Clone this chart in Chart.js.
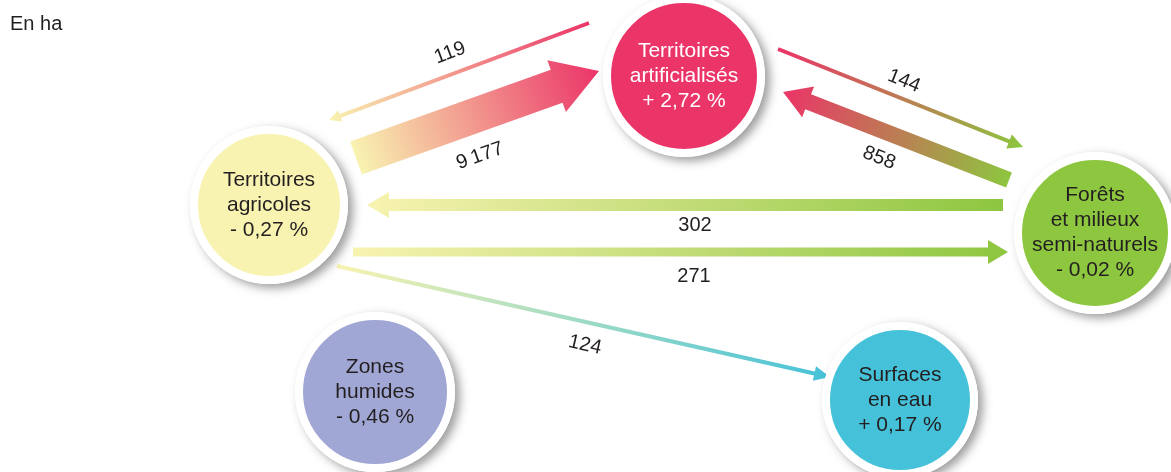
<!DOCTYPE html>
<html lang="fr">
<head>
<meta charset="utf-8">
<title>Flux entre occupations du sol</title>
<script src="https://cdn.jsdelivr.net/npm/chart.js@4.4.1/dist/chart.umd.min.js"></script>
<style>
  html, body { margin: 0; padding: 0; background: #fff; }
  #wrap { position: relative; width: 1171px; height: 472px; }
</style>
</head>
<body>
<div id="wrap"><canvas id="flux"></canvas></div>
<script>
// Données : postes d'occupation du sol, évolution en %, flux en hectares
const categories = [
  ["Territoires", "artificialisés"],
  ["Territoires", "agricoles"],
  ["Forêts", "et milieux", "semi-naturels"],
  ["Zones", "humides"],
  ["Surfaces", "en eau"]
];
const evolutions = [2.72, -0.27, -0.02, -0.46, 0.17];

const fluxDe = [0, 1, 0, 2, 2, 1, 1];
const fluxVers = [1, 0, 2, 0, 1, 2, 4];
const fluxValeurs = [119, 9177, 144, 858, 302, 271, 124];

const unite = "En ha";

// Mise en page (unités = pixels du graphique)
const noeudX = [684, 269, 1095, 375, 900];
const noeudY = [76, 205, 233, 392, 400];
const noeudR = [73, 71, 73, 72, 70];
const couleurs = ["#EB3468", "#F8F3B1", "#8DC63F", "#A1A7D4", "#45C2D9"];
const couleursTexte = ["#FFFFFF", "#231F20", "#231F20", "#231F20", "#231F20"];
const anneau = 8;

const fluxQueue = [[589, 23], [356, 158], [778, 49], [1009, 180], [1003, 205], [353, 252], [337, 266]];
const fluxPointe = [[329, 120], [599, 71], [1023, 147], [783, 92], [367, 205], [1008, 252], [830, 377]];
const fluxEpaisseur = [4, 35, 4, 16, 12, 9, 4];
const fluxTete = [[12, 12], [45, 55], [15, 15], [27, 33], [22, 26], [20, 24], [16, 15]];
const etiquetteXY = [[450, 53], [480, 156], [904, 81], [879, 158], [695, 225], [694, 276], [585, 345]];

const police = '"Liberation Sans", Arial, Helvetica, sans-serif';

function formatPct(v) {
  const s = Math.abs(v).toFixed(2).replace(".", ",");
  return (v < 0 ? "- " : "+ ") + s + " %";
}
function formatHa(v) {
  return String(v).replace(/\B(?=(\d{3})+(?!\d))/g, "\u202F");
}

function dessineFleche(ctx, x0, y0, x1, y1, w, hl, hw, c0, c1) {
  const dx = x1 - x0, dy = y1 - y0;
  const len = Math.hypot(dx, dy);
  const ux = dx / len, uy = dy / len;
  const nx = -uy, ny = ux;
  const bx = x1 - ux * hl, by = y1 - uy * hl;
  const grad = ctx.createLinearGradient(x0, y0, x1, y1);
  grad.addColorStop(0, c0);
  grad.addColorStop(1, c1);
  ctx.beginPath();
  ctx.moveTo(x0 + nx * w / 2, y0 + ny * w / 2);
  ctx.lineTo(bx + nx * w / 2, by + ny * w / 2);
  ctx.lineTo(bx + nx * hw / 2, by + ny * hw / 2);
  ctx.lineTo(x1, y1);
  ctx.lineTo(bx - nx * hw / 2, by - ny * hw / 2);
  ctx.lineTo(bx - nx * w / 2, by - ny * w / 2);
  ctx.lineTo(x0 - nx * w / 2, y0 - ny * w / 2);
  ctx.closePath();
  ctx.fillStyle = grad;
  ctx.fill();
}

const fluxPlugin = {
  id: "flux",
  beforeDatasetsDraw(chart) {
    const ctx = chart.ctx;
    const sx = chart.scales.x, sy = chart.scales.y;
    // flèches
    fluxValeurs.forEach((v, i) => {
      const x0 = sx.getPixelForValue(fluxQueue[i][0]), y0 = sy.getPixelForValue(fluxQueue[i][1]);
      const x1 = sx.getPixelForValue(fluxPointe[i][0]), y1 = sy.getPixelForValue(fluxPointe[i][1]);
      dessineFleche(ctx, x0, y0, x1, y1, fluxEpaisseur[i], fluxTete[i][0], fluxTete[i][1],
        couleurs[fluxDe[i]], couleurs[fluxVers[i]]);
    });
    // ombres des cercles
    categories.forEach((c, i) => {
      const x = sx.getPixelForValue(noeudX[i]), y = sy.getPixelForValue(noeudY[i]);
      ctx.save();
      ctx.shadowColor = "rgba(0,0,0,0.38)";
      ctx.shadowBlur = 10;
      ctx.shadowOffsetX = 5;
      ctx.shadowOffsetY = 4;
      ctx.beginPath();
      ctx.arc(x, y, noeudR[i] + anneau, 0, Math.PI * 2);
      ctx.fillStyle = "#FFFFFF";
      ctx.fill();
      ctx.restore();
    });
  },
  afterDatasetsDraw(chart) {
    const ctx = chart.ctx;
    const sx = chart.scales.x, sy = chart.scales.y;
    ctx.save();
    ctx.textAlign = "center";
    ctx.textBaseline = "middle";
    // textes des cercles
    ctx.font = "21px " + police;
    categories.forEach((lignes, i) => {
      const tout = lignes.concat([formatPct(evolutions[i])]);
      const x = sx.getPixelForValue(noeudX[i]), y = sy.getPixelForValue(noeudY[i]);
      const h = 25;
      const y0 = y - (tout.length - 1) * h / 2;
      ctx.fillStyle = couleursTexte[i];
      tout.forEach((t, k) => ctx.fillText(t, x, y0 + k * h));
    });
    // valeurs des flux
    ctx.font = "20px " + police;
    ctx.fillStyle = "#231F20";
    fluxValeurs.forEach((v, i) => {
      let a = Math.atan2(fluxPointe[i][1] - fluxQueue[i][1], fluxPointe[i][0] - fluxQueue[i][0]);
      if (a > Math.PI / 2) a -= Math.PI;
      if (a < -Math.PI / 2) a += Math.PI;
      ctx.save();
      ctx.translate(sx.getPixelForValue(etiquetteXY[i][0]), sy.getPixelForValue(etiquetteXY[i][1]));
      ctx.rotate(a);
      ctx.fillText(formatHa(v), 0, 0);
      ctx.restore();
    });
    // unité
    ctx.textAlign = "left";
    ctx.textBaseline = "alphabetic";
    ctx.fillText(unite, 10, 30);
    ctx.restore();
  }
};

const ctx = document.getElementById("flux").getContext("2d");
new Chart(ctx, {
  type: "bubble",
  data: {
    datasets: [{
      data: categories.map((c, i) => ({ x: noeudX[i], y: noeudY[i], r: noeudR[i] + anneau / 2 })),
      backgroundColor: couleurs,
      borderColor: "#FFFFFF",
      borderWidth: anneau,
      hoverBorderWidth: anneau,
      hoverRadius: 0,
      clip: false
    }]
  },
  options: {
    responsive: true,
    maintainAspectRatio: false,
    animation: false,
    events: [],
    layout: { padding: 0, autoPadding: false },
    scales: {
      x: { type: "linear", min: 0, max: 1171, display: false },
      y: { type: "linear", min: 0, max: 472, reverse: true, display: false }
    },
    plugins: {
      legend: { display: false },
      tooltip: { enabled: false }
    }
  },
  plugins: [fluxPlugin]
});
</script>
</body>
</html>
